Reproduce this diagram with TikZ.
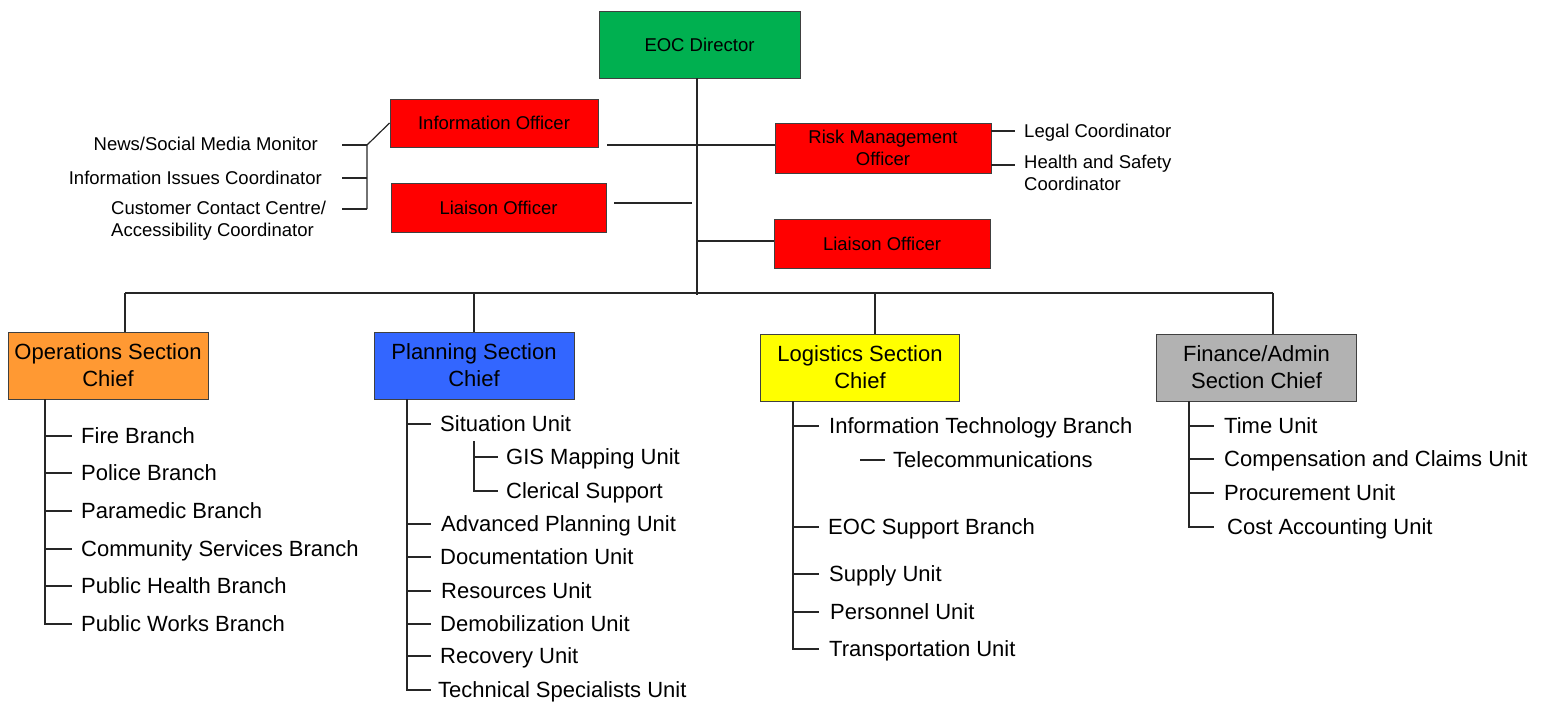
\documentclass[tikz,border=0pt]{standalone}
\usepackage{fontspec}
\setmainfont{Liberation Sans}
\definecolor{cgreen}{HTML}{00B050}
\definecolor{cred}{HTML}{FF0000}
\definecolor{corange}{HTML}{FF9933}
\definecolor{cblue}{HTML}{3366FF}
\definecolor{cyellow}{HTML}{FFFF00}
\definecolor{cgray}{HTML}{B2B2B2}
\begin{document}
\begin{tikzpicture}[x=1pt,y=-1pt,
  sm/.style={font=\fontsize{18.5}{21.5}\selectfont},
  lg/.style={font=\fontsize{22}{27}\selectfont},
  box/.style={draw=black!75, line width=0.9pt, inner sep=0pt, align=center},
  leaf/.style={anchor=west, inner sep=0pt, text height=15.8pt, text depth=0pt, lg},
  sleaf/.style={anchor=west, inner sep=0pt, text height=13.2pt, text depth=0pt, sm},
  conn/.style={line width=1.2pt, draw=black!85}]
\useasboundingbox (0,0) rectangle (1541,702);

% boxes
\node[box, sm, fill=cgreen, minimum width=201pt, minimum height=67pt] (dir) at (699.5,44.5) {EOC Director};
\node[box, sm, fill=cred, minimum width=208pt, minimum height=48pt] (info) at (494,123) {Information Officer};
\node[box, sm, fill=cred, minimum width=215pt, minimum height=49pt] (lia1) at (498.5,207.5) {Liaison Officer};
\node[box, sm, fill=cred, minimum width=216pt, minimum height=50pt] (risk) at (883,148) {Risk Management\\Officer};
\node[box, sm, fill=cred, minimum width=216pt, minimum height=49pt] (lia2) at (882,244) {Liaison Officer};
\node[box, lg, fill=corange, minimum width=200pt, minimum height=67pt] (ops) at (108,365.5) {Operations Section\\Chief};
\node[box, lg, fill=cblue, minimum width=200pt, minimum height=67pt] (plan) at (474,365.5) {Planning Section\\Chief};
\node[box, lg, fill=cyellow, minimum width=199.5pt, minimum height=67pt] (log) at (860,367.5) {Logistics Section\\Chief};
\node[box, lg, fill=cgray, minimum width=199.5pt, minimum height=67pt] (fin) at (1256.5,367.5) {Finance/Admin\\Section Chief};

% trunk and bar
\coordinate (tr) at (697,295);
\draw[conn] (dir.south -| tr) -- (tr);
\coordinate (opsup) at (125,293);
\coordinate (logup) at (875,293);
\coordinate (finup) at (1273,293);
\draw[conn] (opsup) -- (finup);
\draw[conn] (opsup) -- (opsup |- ops.north);
\draw[conn] (plan.north) -- (plan.north |- opsup);
\draw[conn] (logup) -- (logup |- log.north);
\draw[conn] (finup) -- (finup |- fin.north);

% staff connectors
\coordinate (il) at (607,145);
\draw[conn] (il) -- (il -| risk.west);
\coordinate (ll1) at (614,203);
\coordinate (ll2) at (692,203);
\draw[conn] (ll1) -- (ll2);
\draw[conn] ([yshift=3pt]lia2.west) -- ([yshift=3pt]lia2.west -| tr);

% risk management sub items
\node[sleaf] (legal) at (1024,131) {Legal Coordinator};
\node[sm, anchor=north west, inner sep=0pt, align=left] (hs) at (1024,155) {Health and Safety\\Coordinator};
\draw[conn] (risk.east |- legal.west) -- ([xshift=-9pt]legal.west);
\coordinate (hst) at (1015,165);
\draw[conn] (risk.east |- hst) -- (hst);

% information officer sub items
\node[sleaf, anchor=east] (news) at (318,144) {News/Social Media Monitor};
\node[sleaf, anchor=east] (iic) at (322,178) {Information Issues Coordinator};
\node[sm, anchor=north west, inner sep=0pt, align=left] (ccc) at (111,201) {Customer Contact Centre/\\Accessibility Coordinator};
\coordinate (b1) at (367,145);
\coordinate (b3) at (367,209);
\coordinate (tx) at (342,0);
\draw[conn] (info.west) -- (b1) -- (b3);
\draw[conn] (b1 -| tx) -- (b1);
\draw[conn] (iic.east -| tx) -- (iic.east -| b1);
\draw[conn] (b3 -| tx) -- (b3);

% operations
\node[leaf] (fire) at (81,436) {Fire Branch};
\node[leaf] (pol) at (81,473) {Police Branch};
\node[leaf] (para) at (81,511) {Paramedic Branch};
\node[leaf] (comm) at (81,549) {Community Services Branch};
\node[leaf] (phb) at (81,586) {Public Health Branch};
\node[leaf] (pwb) at (81,624) {Public Works Branch};
\coordinate (os) at (45,0);
\coordinate (oe) at (72,0);
\draw[conn] (ops.south -| os) |- (pwb.west -| oe);
\foreach \n in {fire,pol,para,comm,phb}
  \draw[conn] (\n.west -| os) -- (\n.west -| oe);

% planning
\node[leaf] (sit) at (440,424) {Situation Unit};
\node[leaf] (gis) at (506,457) {GIS Mapping Unit};
\node[leaf] (cler) at (506,491) {Clerical Support};
\node[leaf] (adv) at (441,524) {Advanced Planning Unit};
\node[leaf] (doc) at (440,557) {Documentation Unit};
\node[leaf] (res) at (441,591) {Resources Unit};
\node[leaf] (demob) at (440,624) {Demobilization Unit};
\node[leaf] (rec) at (440,656) {Recovery Unit};
\node[leaf] (tech) at (438,690) {Technical Specialists Unit};
\coordinate (ps) at (407,0);
\coordinate (pe) at (431,0);
\draw[conn] (plan.south -| ps) |- (tech.west -| pe);
\foreach \n in {sit,adv,doc,res,demob,rec}
  \draw[conn] (\n.west -| ps) -- (\n.west -| pe);
\coordinate (gt) at (474,441);
\coordinate (ge) at (498,0);
\draw[conn] (gt) |- (cler.west -| ge);
\draw[conn] (gis.west -| gt) -- (gis.west -| ge);

% logistics
\node[leaf] (itb) at (829,426) {Information Technology Branch};
\node[leaf] (tel) at (893,460) {Telecommunications};
\node[leaf] (eocs) at (828,527) {EOC Support Branch};
\node[leaf] (sup) at (829,574) {Supply Unit};
\node[leaf] (pers) at (830,612) {Personnel Unit};
\node[leaf] (trans) at (829,649) {Transportation Unit};
\coordinate (ls) at (793,0);
\coordinate (le) at (819,0);
\draw[conn] (log.south -| ls) |- (trans.west -| le);
\foreach \n in {itb,eocs,sup,pers}
  \draw[conn] (\n.west -| ls) -- (\n.west -| le);
\draw[conn] ([xshift=-8pt]tel.west) -- ([xshift=-33pt]tel.west);

% finance
\node[leaf] (time) at (1224,426) {Time Unit};
\node[leaf] (comp) at (1224,459) {Compensation and Claims Unit};
\node[leaf] (proc) at (1224,493) {Procurement Unit};
\node[leaf] (cost) at (1227,527) {Cost Accounting Unit};
\coordinate (fs) at (1189,0);
\coordinate (fe) at (1214,0);
\draw[conn] (fin.south -| fs) |- (cost.west -| fe);
\foreach \n in {time,comp,proc}
  \draw[conn] (\n.west -| fs) -- (\n.west -| fe);
\end{tikzpicture}
\end{document}
